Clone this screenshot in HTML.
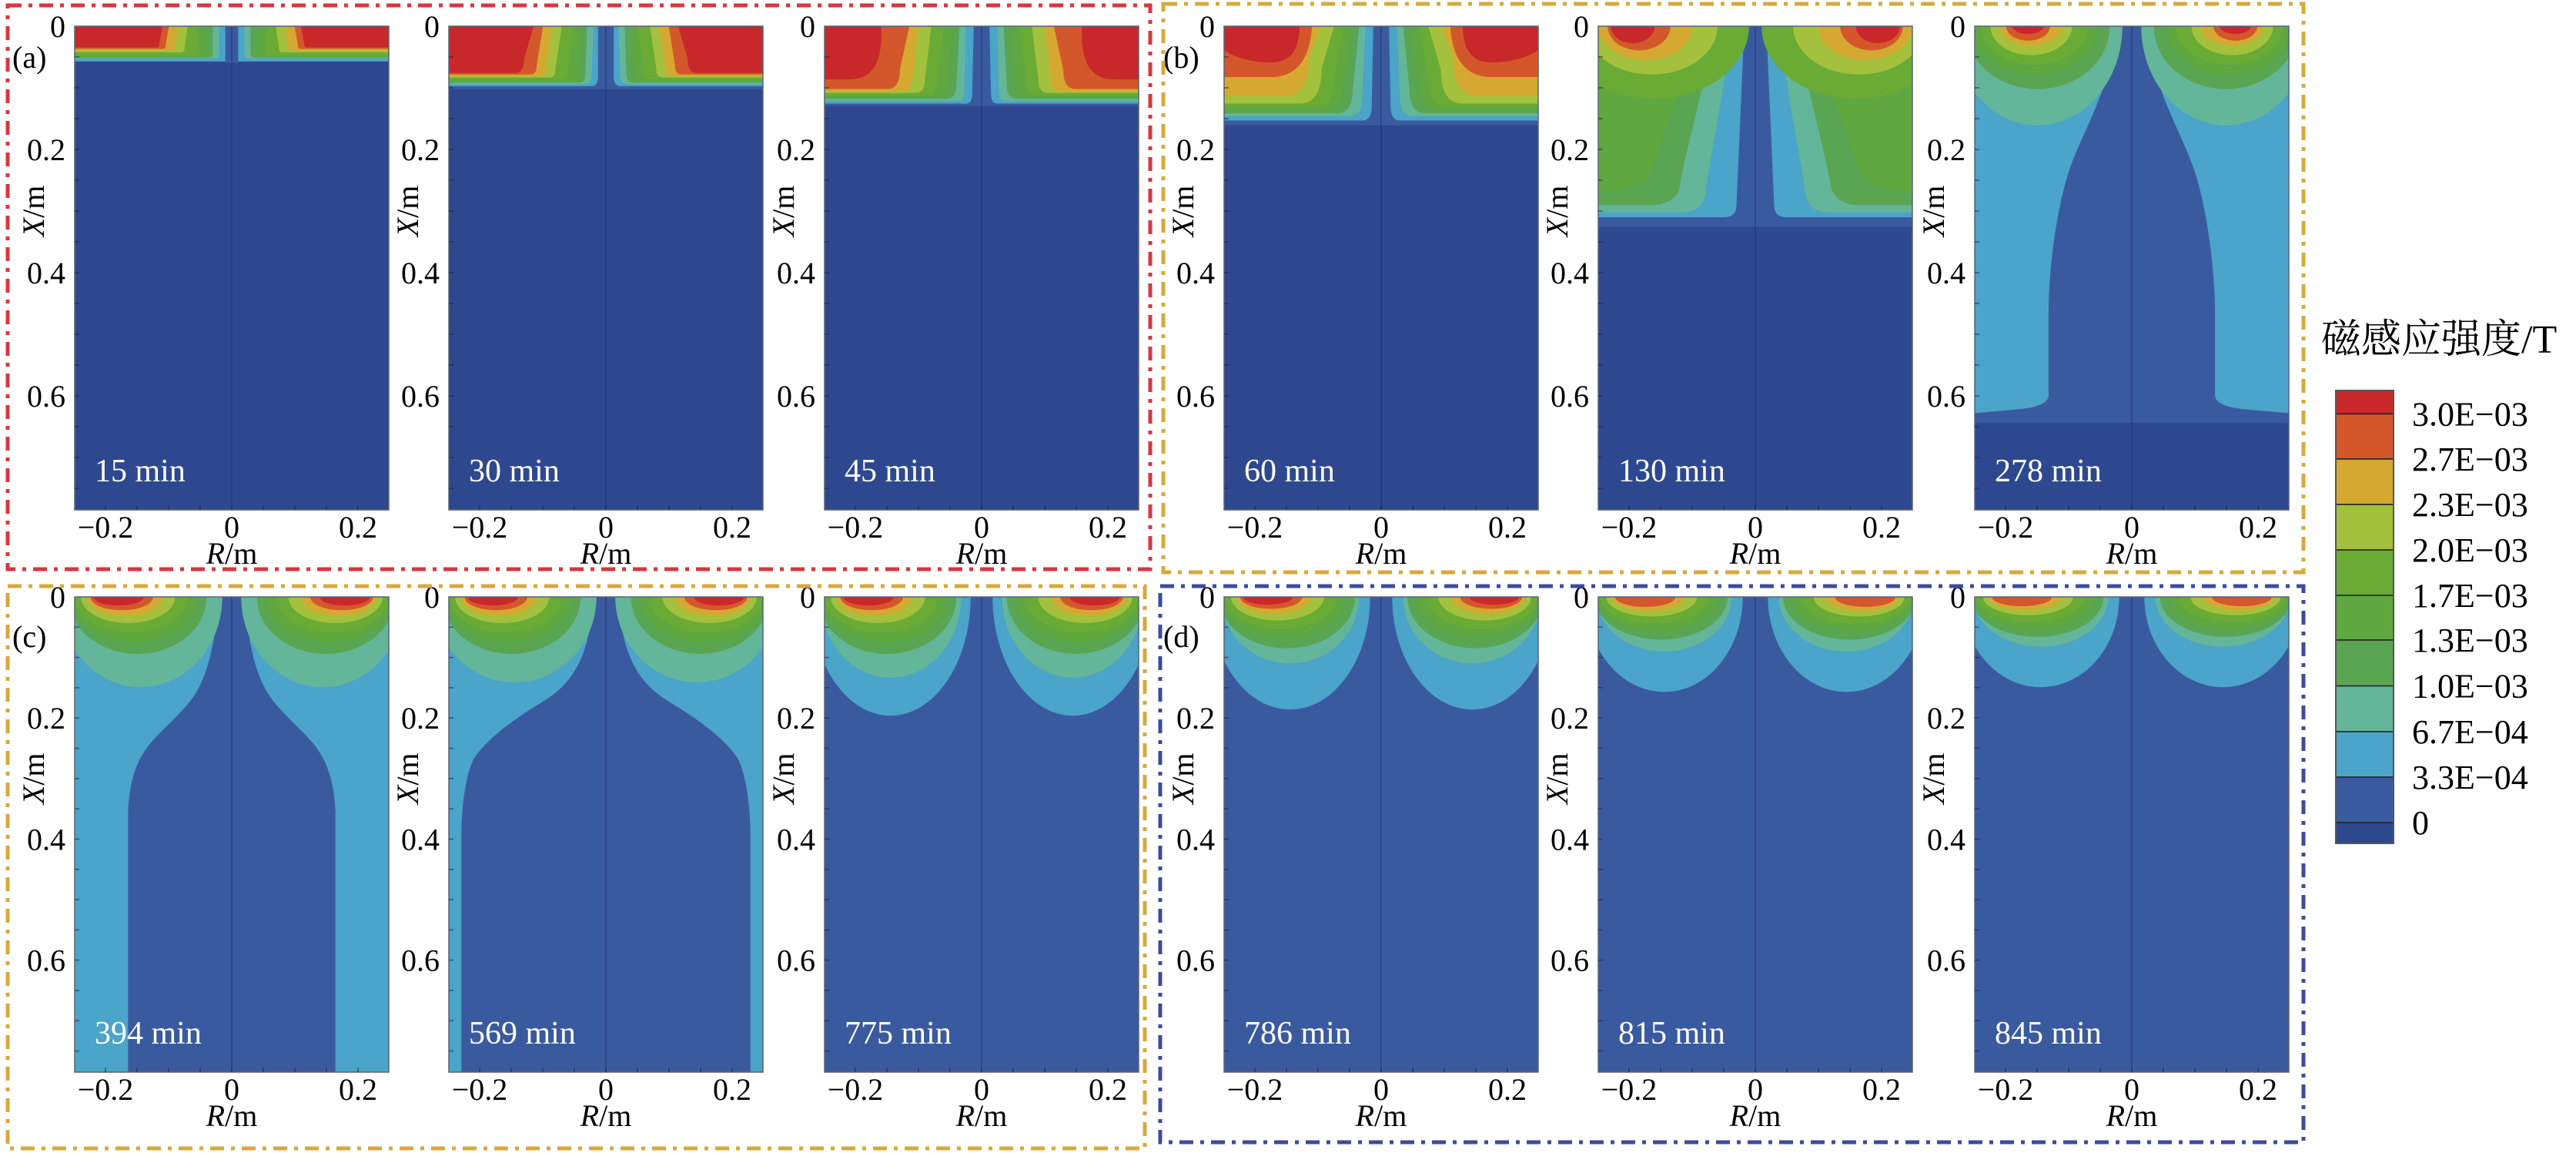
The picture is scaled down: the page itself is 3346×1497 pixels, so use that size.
<!DOCTYPE html>
<html><head><meta charset="utf-8">
<style>
html,body{margin:0;padding:0;background:#fff;}
svg{display:block;}
text{font-family:"Liberation Serif","Noto Serif CJK SC",serif;}
</style></head>
<body>
<svg id="s" xmlns="http://www.w3.org/2000/svg" width="3346" height="1497" viewBox="0 0 3346 1497" font-family="'Liberation Serif','Noto Serif CJK SC',serif"></svg>
<script>
const C=['#2e4890','#3a5a9f','#4ba4c9','#63b699','#5aa552','#5ea83f','#69ab34','#a3c13d','#d5a931','#d4572b','#c8282a'];
let out='';
let defs='<defs><clipPath id="half"><rect x="0" y="0" width="50" height="100"/></clipPath></defs>';
function corner(xt,xb,d,r,c){return `<path d="M0,0 H${xt} L${xb},${d-r} Q${xb},${d} ${xb-r},${d} H0 Z" fill="${c}"/>`;}
function ell(cx,rx,ry,c){return `<ellipse cx="${cx}" cy="0" rx="${rx}" ry="${ry}" fill="${c}"/>`;}
function rect(x,w,h,c){return `<rect x="${x}" y="0" width="${w}" height="${h}" fill="${c}"/>`;}
function lobes(f,red){
  let s='';const L=[[4,22,12,20],[5,20,9.5,19],[6,18,7.5,18],[7,15,5.5,17],[8,12,4,16],[9,10,2.8,15],[10,8,1.8,14]];
  for(const [c,rx,ry,cx] of L){ if(c==10&&!red)continue; s+=ell(cx,rx*(0.85+0.15*f),ry*f,C[c]);}
  return s;
}
const P={
 15: {bg:C[0], half: rect(0,48,7.3,C[2])+rect(48,2,7.6,C[1])+corner(46,46,6.7,1,C[3])+corner(44,44,6.5,1,C[4])+corner(42,42,6.3,1,C[5])+corner(39,39,6.1,1,C[6])+corner(36,35,5.4,1,C[7])+corner(33,32,5,1,C[8])+corner(30,29,4.7,1,C[9])+corner(28,27,4.4,1,C[10])},
 30: {bg:C[0], half: rect(0,50,13,C[1])+corner(47.5,47.5,12.4,2,C[2])+corner(46,45.5,12,2,C[3])+corner(44,43.5,11.7,2,C[4])+corner(42,41,11.4,2,C[5])+corner(40,38,11,2,C[6])+corner(36,34,10.6,2,C[7])+corner(33,31,10.3,2,C[8])+corner(30,28,10,2,C[9])+corner(27,24,9.7,3,C[10])},
 45: {bg:C[0], half: rect(0,50,16.5,C[1])+corner(47.5,47,16,2,C[2])+corner(45,44.5,15.5,2,C[3])+corner(43,42,15,3,C[4])+corner(41,39,14.6,3,C[5])+corner(38,36,14.2,3,C[6])+corner(34,32,13.8,3,C[7])+corner(30,28,13.4,3,C[8])+corner(27,24,13,4,C[9])+`<path d="M0,0 H18 Q19,11 8,11 H0 Z" fill="${C[10]}"/>`},
 60: {bg:C[0], half: rect(0,50,20.5,C[1])+corner(47.5,47,19.5,3,C[2])+corner(45,44,18.6,4,C[3])+corner(43,41,18,5,C[4])+corner(41,38,17.3,6,C[5])+corner(38,35,16.6,6,C[6])+corner(35,31,16,7,C[7])+corner(31,27,14.5,8,C[8])+`<path d="M0,0 H28 Q27,10 16,10.5 L0,10.5 Z" fill="${C[9]}"/>`+`<path d="M0,0 H24 Q24,7.5 15,7.5 Q6,7.5 0,5 Z" fill="${C[10]}"/>`},
 130:{bg:C[0], half: rect(0,50,41.5,C[1])+`<path d="M0,0 H46.5 L44,37 Q44,39.5 40,39.5 H0 Z" fill="${C[2]}"/>`+`<path d="M0,0 H42 C40,15 36,25 34,35 Q33,38 28,38.5 H0 Z" fill="${C[3]}"/>`+`<path d="M0,0 H37 C33,15 28,25 26,33 Q25,36.5 18,37 H0 Z" fill="${C[4]}"/>`+`<path d="M0,0 H33 C28,12 20,22 18,28 Q16,33 6,34 H0 Z" fill="${C[5]}"/>`+ell(18,30,15,C[6])+ell(17,21,10,C[7])+ell(15,15,7,C[8])+ell(13,10,5,C[9])+ell(11,7,3.5,C[10])},
 278:{bg:C[0], half: rect(0,50,82,C[1])+`<path d="M0,0 H46 C42,15 34,22 30,30 C26,38 23.5,50 23.5,60 L23.5,76 Q24,78.6 14,79.2 L0,80 Z" fill="${C[2]}"/>`+ell(20,27,20.5,C[3])+ell(20,23,13,C[4])+ell(19,20,10,C[5])+ell(19,17,8,C[6])+ell(18,13,6,C[7])+ell(18,10,4,C[8])+ell(17,7,3,C[9])+ell(17,5,1.6,C[10])},
 394:{bg:C[2], half: `<path d="M50,0 H46 C44,15 40,20 34,24 C26,30 18,32 17,45 L17,100 H50 Z" fill="${C[1]}"/>`+ell(21,26,19,C[3])+lobes(1,true)},
 569:{bg:C[2], half: `<path d="M50,0 H46 C45,12 40,18 30,22 C20,26 12,30 8,34 C5,38 4,45 4,50 L4,100 H50 Z" fill="${C[1]}"/>`+ell(21,26,18,C[3])+lobes(1,true)},
 775:{bg:C[1], half: ell(21,25.5,25,C[2])+ell(21,22.5,17,C[3])+lobes(1,true)},
 786:{bg:C[1], half: ell(21,25.5,23.7,C[2])+ell(21,22,14,C[3])+lobes(0.9,true)},
 815:{bg:C[1], half: ell(21,25,20,C[2])+ell(21,21.5,11.5,C[3])+lobes(0.75,false)},
 845:{bg:C[1], half: ell(21,25,19,C[2])+ell(21,21.5,10.5,C[3])+lobes(0.7,false)}
};
const lefts=[97,583,1071,1590,2076,2565];
const rows=[{y:34,h:628,t:[15,30,45,60,130,278]},{y:775,h:617,t:[394,569,775,786,815,845]}];
const W=408;
rows.forEach((r,ri)=>{
  r.t.forEach((t,i)=>{
    const x=lefts[i],y=r.y,H=r.h,p=P[t];
    out+=`<g transform="translate(${x},${y}) scale(${W/100},${H/100})">`+
      `<rect x="0" y="0" width="100" height="100" fill="${p.bg}"/>`+
      `<g clip-path="url(#half)">${p.half}</g>`+
      `<g transform="translate(100,0) scale(-1,1)"><g clip-path="url(#half)">${p.half}</g></g>`+
      `<line x1="50" y1="0" x2="50" y2="100" stroke="#1f3575" stroke-width="0.25"/>`+
      `</g>`;
    out+=`<rect x="${x}" y="${y}" width="${W}" height="${H}" fill="none" stroke="#5a6275" stroke-width="1.5"/>`;
    for(let k=1;k<16;k++){const yy=y+k*H/15.7;out+=`<line x1="${x}" y1="${yy}" x2="${x+6}" y2="${yy}" stroke="#223" stroke-width="1.5" opacity="0.6"/>`;}
    for(let k=-4;k<=4;k++){const xx=x+204+k*41;out+=`<line x1="${xx}" y1="${y+H}" x2="${xx}" y2="${y+H-6}" stroke="#223" stroke-width="1.5" opacity="0.6"/>`;}
    const pm=H/0.785;
    out+=`<text x="${x-12}" y="${y+14}" font-size="40" text-anchor="end">0</text>`;
    [0.2,0.4,0.6].forEach(v=>{out+=`<text x="${x-12}" y="${y+v*pm+14}" font-size="40" text-anchor="end">${v}</text>`;});
    const cy=y+0.3*pm;
    out+=`<text transform="translate(${x-40},${cy}) rotate(-90)" font-size="40" text-anchor="middle"><tspan font-style="italic">X</tspan>/m</text>`;
    const by=y+H+36;
    out+=`<text x="${x+40}" y="${by}" font-size="40" text-anchor="middle">\u22120.2</text>`;
    out+=`<text x="${x+204}" y="${by}" font-size="40" text-anchor="middle">0</text>`;
    out+=`<text x="${x+368}" y="${by}" font-size="40" text-anchor="middle">0.2</text>`;
    out+=`<text x="${x+204}" y="${by+34}" font-size="40" text-anchor="middle"><tspan font-style="italic">R</tspan>/m</text>`;
    out+=`<text x="${x+26}" y="${y+H-37}" font-size="42" fill="#fff">${t} min</text>`;
  });
});
out+=`<text x="16" y="88" font-size="40">(a)</text><text x="1511" y="88" font-size="40">(b)</text>`;
out+=`<text x="16" y="840" font-size="40">(c)</text><text x="1511" y="840" font-size="40">(d)</text>`;
const da='stroke-dasharray="18 9 5 9" stroke-width="5" fill="none"';
out+=`<rect x="10" y="7" width="1484" height="732" stroke="#d9363e" ${da}/>`;
out+=`<rect x="1511" y="5" width="1481" height="738" stroke="#d8a83c" ${da}/>`;
out+=`<rect x="10" y="761" width="1477" height="730" stroke="#d8a83c" ${da}/>`;
out+=`<rect x="1507" y="761" width="1485" height="722" stroke="#3d4b9c" ${da}/>`;
const b=[507,537.5,596,655,714,773,831,890.6,950,1009,1068,1095];
const bc=[C[10],C[9],C[8],C[7],C[6],C[5],C[4],C[3],C[2],C[1],C[0]];
for(let i=0;i<11;i++){out+=`<rect x="3034" y="${b[i]}" width="75" height="${b[i+1]-b[i]}" fill="${bc[i]}" stroke="#222" stroke-width="1.5"/>`;}
out+=`<rect x="3034" y="507" width="75" height="588" fill="none" stroke="#555" stroke-width="2"/>`;
const labs=['3.0E\u221203','2.7E\u221203','2.3E\u221203','2.0E\u221203','1.7E\u221203','1.3E\u221203','1.0E\u221203','6.7E\u221204','3.3E\u221204','0'];
labs.forEach((l,i)=>{out+=`<text x="3133" y="${b[i+1]+15}" font-size="44">${l}</text>`;});
out+=`<text x="3015" y="458" font-size="52" font-family="'Noto Serif CJK SC','Liberation Serif',serif">磁感应强度/T</text>`;
document.getElementById('s').innerHTML=defs+out;
</script>
</body></html>
